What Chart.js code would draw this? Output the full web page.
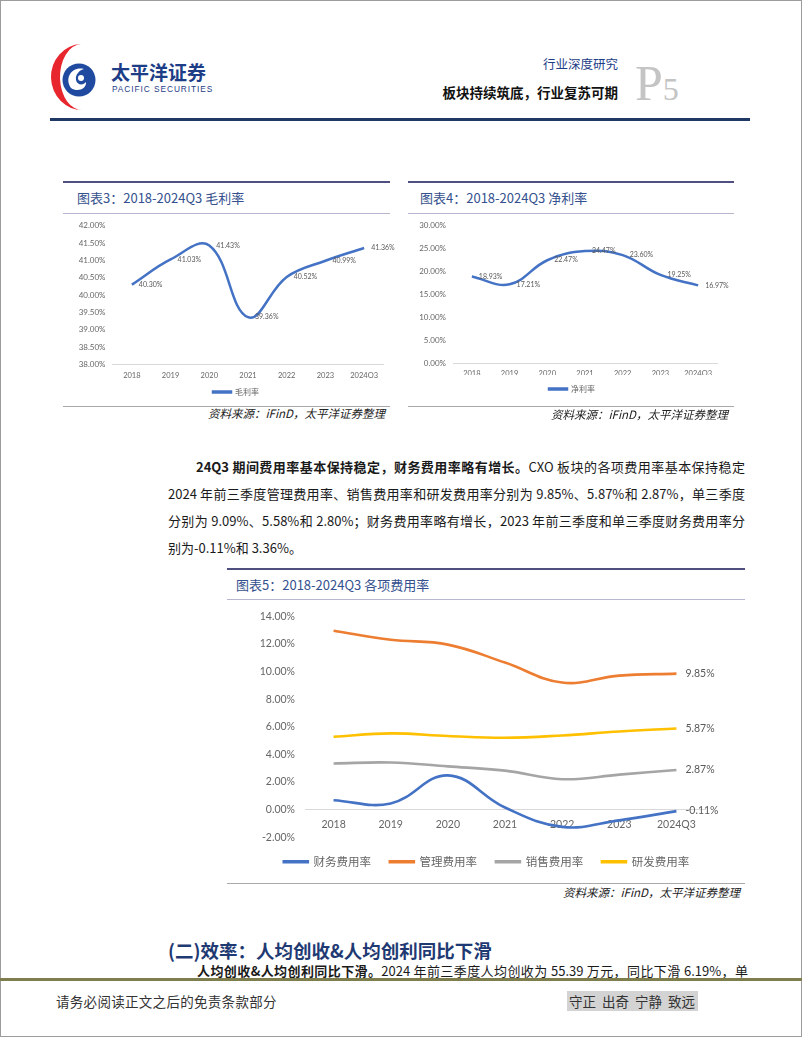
<!DOCTYPE html>
<html>
<head>
<meta charset="utf-8">
<script src="https://cdn.jsdelivr.net/npm/chart.js@4.4.1/dist/chart.umd.min.js"></script>
<style>
html,body{margin:0;padding:0;background:#fff;}
body{width:802px;height:1037px;position:relative;overflow:hidden;font-family:"Noto Sans CJK SC","Noto Sans",sans-serif;color:#222;}
.a{position:absolute;white-space:nowrap;}
.frame{left:0;top:0;width:802px;height:1037px;border:1px solid #9c9c9c;box-sizing:border-box;}
.hline{position:absolute;}
.ctitle{position:absolute;font-size:13px;line-height:16px;color:#34508e;white-space:nowrap;}
.src{position:absolute;font-size:11.5px;line-height:14px;font-style:italic;color:#222;white-space:nowrap;text-align:right;}
.para{position:absolute;font-size:13px;line-height:18px;white-space:nowrap;color:#1a1a1a;}
.just{text-align:justify;text-align-last:justify;}
canvas{position:absolute;}
</style>
</head>
<body>
<div class="a frame"></div>

<!-- header logo -->
<svg class="a" style="left:50px;top:41px" width="62" height="72" viewBox="0 0 62 72">
  <path d="M31 3 A31 33 0 0 0 33 69 A20 30 0 0 1 31 3 Z" fill="#e8262e"/>
  <circle cx="29" cy="39" r="16.5" fill="#1f4aa0"/>
  <path d="M21 47 C14 37 22 25 34 28 C30 29 25 33 26 39 C27 44 33 45 36 41 C37 47 28 52 21 47 Z" fill="#fff"/>
  <circle cx="31" cy="37" r="3" fill="#fff"/>
</svg>
<div class="a" style="left:111px;top:61px;font-size:19px;line-height:22px;font-weight:700;color:#1d3d86;">太平洋证券</div>
<div class="a" style="left:112px;top:84px;font-family:'Liberation Sans',sans-serif;font-size:8.3px;line-height:10px;color:#1d3d86;letter-spacing:0.95px;">PACIFIC SECURITIES</div>

<div class="a" style="right:184px;top:56px;font-size:12.5px;line-height:16px;color:#1d3d86;">行业深度研究</div>
<div class="a" style="right:184px;top:84px;font-size:13.5px;line-height:16px;font-weight:700;color:#111;">板块持续筑底，行业复苏可期</div>
<div class="a" style="left:635px;top:58px;font-family:'Liberation Serif',serif;color:#c4c4c4;line-height:50px;"><span style="font-size:50px;">P</span><span style="font-size:32px;">5</span></div>
<div class="hline" style="left:50px;top:118px;width:700px;height:3px;background:#1f3864;"></div>

<!-- Chart 3 box -->
<div class="hline" style="left:63px;top:181px;width:327px;height:2px;background:#4f5080;"></div>
<div class="ctitle" style="left:77px;top:190px;">图表3：2018-2024Q3 毛利率</div>
<div class="hline" style="left:63px;top:213px;width:327px;height:1px;background:#b7b7cf;"></div>
<div class="hline" style="left:63px;top:406px;width:327px;height:1px;background:#a9a9a9;"></div>
<div class="src" style="right:417px;top:406px;">资料来源：iFinD，太平洋证券整理</div>
<canvas id="c3" width="346" height="196" style="left:63px;top:214px;"></canvas>

<!-- Chart 4 box -->
<div class="hline" style="left:408px;top:181px;width:326px;height:2px;background:#4f5080;"></div>
<div class="ctitle" style="left:420px;top:190px;">图表4：2018-2024Q3 净利率</div>
<div class="hline" style="left:408px;top:213px;width:326px;height:1px;background:#b7b7cf;"></div>
<div class="hline" style="left:408px;top:406px;width:326px;height:1px;background:#a9a9a9;"></div>
<div class="src" style="right:74px;top:407px;">资料来源：iFinD，太平洋证券整理</div>
<canvas id="c4" width="328" height="196" style="left:408px;top:214px;"></canvas>

<!-- paragraph -->
<div class="para just" style="left:196px;top:458px;width:549px;"><b>24Q3 期间费用率基本保持稳定，财务费用率略有增长。</b>CXO 板块的各项费用率基本保持稳定</div>
<div class="para just" style="left:168px;top:485px;width:577px;">2024 年前三季度管理费用率、销售费用率和研发费用率分别为 9.85%、5.87%和 2.87%，单三季度</div>
<div class="para just" style="left:168px;top:512px;width:577px;">分别为 9.09%、5.58%和 2.80%；财务费用率略有增长，2023 年前三季度和单三季度财务费用率分</div>
<div class="para" style="left:168px;top:539px;">别为-0.11%和 3.36%。</div>

<!-- Chart 5 box -->
<div class="hline" style="left:227px;top:568px;width:518px;height:2px;background:#4f5080;"></div>
<div class="ctitle" style="left:236px;top:577px;">图表5：2018-2024Q3 各项费用率</div>
<div class="hline" style="left:227px;top:599px;width:518px;height:1px;background:#b7b7cf;"></div>
<div class="hline" style="left:227px;top:883px;width:518px;height:1px;background:#a9a9a9;"></div>
<div class="src" style="right:62px;top:885px;">资料来源：iFinD，太平洋证券整理</div>
<canvas id="c5" width="519" height="282" style="left:227px;top:600px;"></canvas>

<!-- section -->
<div class="a" style="left:168px;top:938px;font-size:18.5px;line-height:24px;font-weight:700;color:#1f3a73;">(二)效率：人均创收&amp;人均创利同比下滑</div>
<div class="para just" style="left:197px;top:962px;width:551px;"><b>人均创收&amp;人均创利同比下滑。</b>2024 年前三季度人均创收为 55.39 万元，同比下滑 6.19%，单</div>
<div class="hline" style="left:0px;top:978px;width:802px;height:3px;background:#7d7d4e;"></div>
<div class="a" style="left:56px;top:992px;font-size:13.5px;line-height:18px;color:#333;letter-spacing:0.3px;">请务必阅读正文之后的免责条款部分</div>
<div class="a" style="left:567px;top:991px;width:131px;height:20px;background:#d3d3d3;"></div>
<div class="a" style="left:569px;top:992px;font-size:13.5px;line-height:18px;color:#333;word-spacing:3px;">守正 出奇 宁静 致远</div>

<script>
// ---------------- data ----------------
const years = ['2018', '2019', '2020', '2021', '2022', '2023', '2024Q3'];
const grossMargin = [40.30, 41.03, 41.43, 39.36, 40.52, 40.99, 41.36];
const netMargin = [18.93, 17.21, 22.47, 24.47, 23.60, 19.25, 16.97];
const financeRate = [0.68, 0.44, 2.48, 0.15, -1.25, -0.78, -0.11];
const adminRate = [12.95, 12.30, 11.95, 10.65, 9.20, 9.70, 9.85];
const salesRate = [3.34, 3.41, 3.13, 2.82, 2.20, 2.53, 2.87];
const rdRate = [5.28, 5.52, 5.33, 5.20, 5.37, 5.66, 5.87];
const seriesNames = ['财务费用率', '管理费用率', '销售费用率', '研发费用率'];

// ---------------- helpers ----------------
const LATIN = 'Lato, "Liberation Sans", sans-serif';
const CJK = '"Noto Sans CJK SC", sans-serif';
const TICK = '#666666';

const valueLabels = {
  id: 'valueLabels',
  afterDatasetsDraw(chart, args, opts) {
    const ctx = chart.ctx;
    chart.data.datasets.forEach((ds, i) => {
      const meta = chart.getDatasetMeta(i);
      const idx = opts.lastOnly ? [meta.data.length - 1] : meta.data.map((_, j) => j);
      idx.forEach(j => {
        const el = meta.data[j];
        const v = ds.data[j];
        ctx.save();
        ctx.font = opts.size + 'px ' + LATIN;
        ctx.fillStyle = opts.color || '#595959';
        ctx.textAlign = 'left';
        ctx.textBaseline = 'middle';
        ctx.fillText(v.toFixed(2) + '%', el.x + opts.offset, el.y + (opts.dy || 0));
        ctx.restore();
      });
    });
  }
};

function pct(v) { return Number(v).toFixed(2) + '%'; }

// an empty right-hand axis only used to reserve space so the legend sits where the original one does
function spacer(w) {
  return {
    position: 'right', display: true,
    grid: { display: false, drawTicks: false }, border: { display: false },
    ticks: { display: false },
    afterFit(s) { s.width = w; }
  };
}

function smallChart(id, label, values, yMin, yMax, step, pad, yW, xH, rW, xPad) {
  return new Chart(document.getElementById(id), {
    type: 'line',
    data: {
      labels: years,
      datasets: [{
        label: label, data: values,
        borderColor: '#4472C4', backgroundColor: '#4472C4',
        borderWidth: 2.5, pointRadius: 0, tension: 0.4, fill: false
      }]
    },
    options: {
      responsive: false, animation: false,
      layout: { padding: pad },
      scales: {
        x: {
          offset: true,
          grid: { display: false, drawTicks: false },
          border: { display: true, color: '#d9d9d9', width: 1 },
          ticks: { color: TICK, font: { size: 7.5, family: LATIN }, padding: xPad, maxRotation: 0, autoSkip: false },
          afterFit(s) { s.height = xH; }
        },
        y: {
          min: yMin, max: yMax,
          grid: { display: false, drawTicks: false },
          border: { display: false },
          ticks: { stepSize: step, callback: pct, color: TICK, font: { size: 8, family: LATIN }, padding: 7 },
          afterFit(s) { s.width = yW; }
        },
        yr: spacer(rW)
      },
      plugins: {
        legend: {
          position: 'bottom',
          labels: { boxWidth: 18, boxHeight: 1, padding: 10, color: TICK, font: { size: 8, family: CJK } }
        },
        tooltip: { enabled: false },
        valueLabels: { offset: 7, size: 7, color: '#595959' }
      }
    },
    plugins: [valueLabels]
  });
}

smallChart('c3', '毛利率', grossMargin, 38, 42, 0.5,
  { left: 0, top: 9.3, right: 0, bottom: 4 }, 49.5, 13.7, 25.5, 7);
smallChart('c4', '净利率', netMargin, 0, 30, 5,
  { left: 0, top: 11.7, right: 0, bottom: 7 }, 45, 12, 19, 6);

const colors5 = ['#4472C4', '#ED7D31', '#A5A5A5', '#FFC000'];
const values5 = [financeRate, adminRate, salesRate, rdRate];

new Chart(document.getElementById('c5'), {
  type: 'line',
  data: {
    labels: years,
    datasets: seriesNames.map((n, i) => ({
      label: n, data: values5[i],
      borderColor: colors5[i], backgroundColor: colors5[i],
      borderWidth: 2.6, pointRadius: 0, tension: 0.4, fill: false
    }))
  },
  options: {
    responsive: false, animation: false,
    layout: { padding: { left: 0, top: 14.3, right: 0, bottom: 4.5 } },
    scales: {
      x: {
        position: { y: 0 },
        offset: true,
        grid: { display: false, drawTicks: false },
        border: { display: true, color: '#d9d9d9', width: 1 },
        ticks: { color: TICK, font: { size: 10.5, family: LATIN }, padding: 9, maxRotation: 0, autoSkip: false }
      },
      y: {
        min: -2, max: 14,
        grid: { display: false, drawTicks: false },
        border: { display: false },
        ticks: { stepSize: 2, callback: pct, color: TICK, font: { size: 10.5, family: LATIN }, padding: 10 },
        afterFit(s) { s.width = 78; }
      },
      yr: spacer(41)
    },
    plugins: {
      legend: {
        position: 'bottom',
        labels: { boxWidth: 24, boxHeight: 1, padding: 18.8, color: TICK, font: { size: 11.5, family: CJK } }
      },
      tooltip: { enabled: false },
      valueLabels: { offset: 9, size: 10.5, color: '#595959', lastOnly: true }
    }
  },
  plugins: [valueLabels]
});
</script>
</body>
</html>
